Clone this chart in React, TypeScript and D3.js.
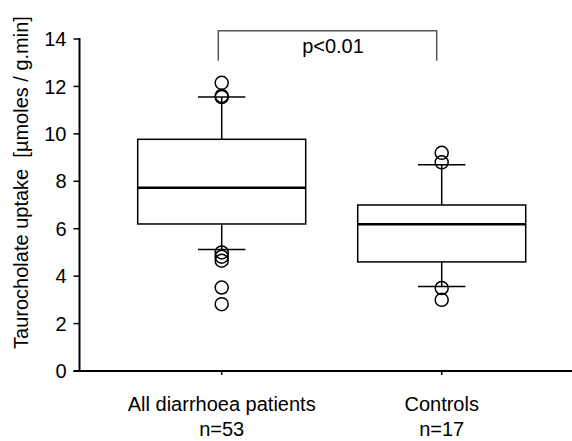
import React from "react";
import * as d3 from "d3";

const categories = ["All diarrhoea patients", "Controls"];
const sampleSizes = ["n=53", "n=17"];
const q1 = [6.2, 4.6];
const medians = [7.73, 6.19];
const q3 = [9.77, 7.0];
const whiskerLow = [5.12, 3.56];
const whiskerHigh = [11.55, 8.7];
const outliersAll = [12.15, 11.6, 11.55, 5.0, 4.82, 4.65, 3.52, 2.82];
const outliersControls = [9.2, 8.8, 3.5, 3.0];
const yTicks = [0, 2, 4, 6, 8, 10, 12, 14];
const yTitle = "Taurocholate uptake  [µmoles / g.min]";
const pLabel = "p<0.01";

const W = 572;
const H = 441;
const FONT = "'Liberation Sans', Arial, Helvetica, sans-serif";

export default function App() {
  const y = d3.scaleLinear().domain([0, 14]).range([371, 39]);
  const x = d3.scalePoint<string>().domain(categories).range([221.7, 441.7]);
  const axisX0 = 79.5;
  const axisX1 = 572;
  const boxHalf = 84;
  const capHalf = 23.7;
  const outliers = [outliersAll, outliersControls];
  const x1 = x(categories[0])!;
  const x2 = x(categories[1])!;
  const bracketY = 30.7;
  const bracketBottom = 60.7;

  return (
    <svg
      width={W}
      height={H}
      style={{ position: "absolute", left: 0, top: 0, display: "block", background: "#fff" }}
      fontFamily={FONT}
    >
      <rect width={W} height={H} fill="#fff" />
      {/* y axis */}
      <line x1={axisX0} x2={axisX0} y1={y(14) - 1} y2={y(0)} stroke="#000" strokeWidth={2} />
      {yTicks.map((t) => (
        <g key={t}>
          <line x1={axisX0 - 6} x2={axisX0} y1={y(t)} y2={y(t)} stroke="#000" strokeWidth={1.5} />
          <text x={axisX0 - 13} y={y(t)} dy="0.36em" textAnchor="end" fontSize={20} fill="#000">
            {t}
          </text>
        </g>
      ))}
      {/* x axis */}
      <line x1={axisX0 - 6} x2={axisX1} y1={y(0)} y2={y(0)} stroke="#000" strokeWidth={2} />
      {categories.map((c, i) => (
        <g key={c}>
          <line x1={x(c)!} x2={x(c)!} y1={y(0)} y2={y(0) + 4} stroke="#000" strokeWidth={1.5} />
          <text x={x(c)!} y={410.5} textAnchor="middle" fontSize={20} fill="#000">
            {c}
          </text>
          <text x={x(c)!} y={436} textAnchor="middle" fontSize={20} fill="#000">
            {sampleSizes[i]}
          </text>
        </g>
      ))}
      {/* y title */}
      <text
        transform={`translate(28,182.5) rotate(-90)`}
        textAnchor="middle"
        fontSize={20}
        fill="#000"
        style={{ whiteSpace: "pre" }}
      >
        {yTitle}
      </text>
      {/* boxes */}
      {categories.map((c, i) => {
        const cx = x(c)!;
        return (
          <g key={"box" + c} fill="none" stroke="#000">
            <line x1={cx} x2={cx} y1={y(q3[i])} y2={y(whiskerHigh[i])} strokeWidth={1.5} />
            <line x1={cx} x2={cx} y1={y(q1[i])} y2={y(whiskerLow[i])} strokeWidth={1.5} />
            <line x1={cx - capHalf} x2={cx + capHalf} y1={y(whiskerHigh[i])} y2={y(whiskerHigh[i])} strokeWidth={1.5} />
            <line x1={cx - capHalf} x2={cx + capHalf} y1={y(whiskerLow[i])} y2={y(whiskerLow[i])} strokeWidth={1.5} />
            <rect
              x={cx - boxHalf}
              y={y(q3[i])}
              width={boxHalf * 2}
              height={y(q1[i]) - y(q3[i])}
              fill="#fff"
              strokeWidth={1.5}
            />
            <line x1={cx - boxHalf} x2={cx + boxHalf} y1={y(medians[i])} y2={y(medians[i])} strokeWidth={2.5} />
            {outliers[i].map((v, k) => (
              <circle key={k} cx={cx} cy={y(v)} r={6.5} strokeWidth={1.5} />
            ))}
          </g>
        );
      })}
      {/* significance bracket */}
      <path
        d={`M${x1 - 3.4},${bracketBottom} V${bracketY} H${x2 - 5} V${bracketBottom}`}
        fill="none"
        stroke="#555"
        strokeWidth={1.5}
      />
      <text x={333} y={53} textAnchor="middle" fontSize={20} fill="#000">
        {pLabel}
      </text>
    </svg>
  );
}
